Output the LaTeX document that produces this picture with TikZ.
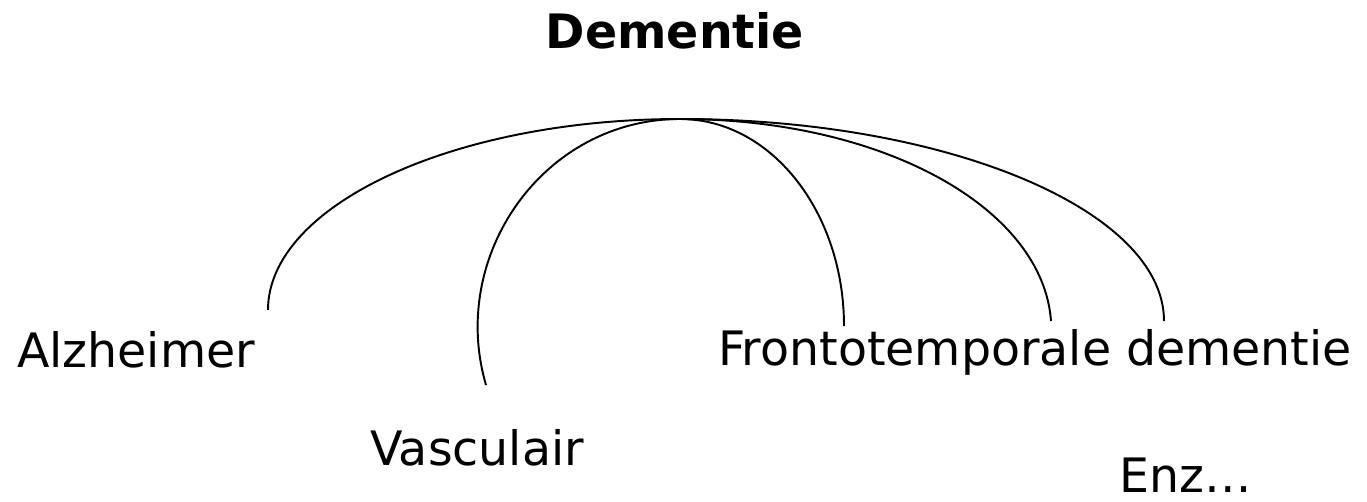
\documentclass[tikz,border=0pt]{standalone}
\usepackage{fontspec}
\setmainfont{DejaVu Sans}

\begin{document}
\begin{tikzpicture}[
    x=0.02cm, y=-0.02cm,
    kind/.style={anchor=base, inner sep=0pt, font=\fontsize{27}{32}\selectfont},
    branch/.style={draw, line width=1.1pt}
  ]
  \useasboundingbox (0,0) rectangle (1367,501);

  \node[kind, font=\fontsize{27}{32}\selectfont\bfseries] (dementie) at (675,48) {Dementie};
  \node[kind] (alzheimer) at (136,367) {Alzheimer};
  \node[kind] (vasculair) at (477,465) {Vasculair};
  \node[kind] (fronto) at (1035,365) {Frontotemporale dementie};
  \node[kind] (enz) at (1186,492) {Enz…};

  \coordinate (top) at (680,119);
  \coordinate (alzEnd) at (268,310);
  \coordinate (vasEnd) at (486,385);
  \coordinate (froEnd) at (844,326);
  \coordinate (temEnd) at (1051,321);
  \coordinate (demEnd) at (1164,321);

  \draw[branch] (top) .. controls +(-228,0) and +(0,-104) .. (alzEnd);
  \draw[branch] (top) .. controls +(-136,0) and +(-38,-130) .. (vasEnd);
  \draw[branch] (top) .. controls +(91,0) and +(0,-114) .. (froEnd);
  \draw[branch] (top) .. controls +(205,0) and +(-8,-112) .. (temEnd);
  \draw[branch] (top) .. controls +(267,0) and +(0,-111) .. (demEnd);
\end{tikzpicture}
\end{document}
